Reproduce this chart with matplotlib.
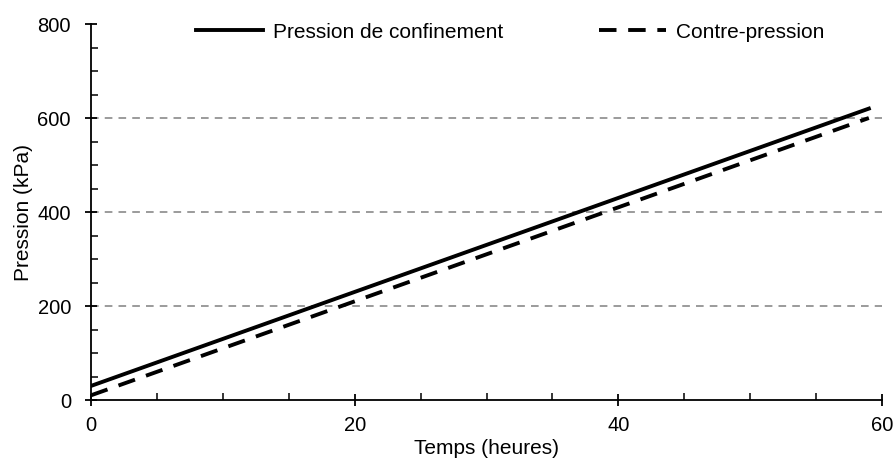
import matplotlib.pyplot as plt
from matplotlib.ticker import MultipleLocator

plt.rcParams['font.family'] = ['Liberation Sans', 'DejaVu Sans']

temps = [0, 59]
confinement = [30, 620]
contre_pression = [10, 600]

fig = plt.figure(figsize=(8.95, 4.59), dpi=100)
ax = fig.add_axes([0.1017, 0.1285, 0.8838, 0.8192])

ax.plot(temps, confinement, color="black", lw=2.8, label="Pression de confinement")
ax.plot(temps, contre_pression, color="black", lw=2.8, ls=(0, (4.5, 3)), label="Contre-pression")

for yv in [200, 400, 600]:
    ax.axhline(yv, color="#808080", lw=1.1, ls=(0, (5, 4)), zorder=0)

ax.set_xlim(0, 60)
ax.set_ylim(0, 800)
ax.xaxis.set_major_locator(MultipleLocator(20))
ax.xaxis.set_minor_locator(MultipleLocator(5))
ax.yaxis.set_major_locator(MultipleLocator(200))
ax.yaxis.set_minor_locator(MultipleLocator(50))
ax.tick_params(which="major", direction="inout", length=9, width=1.3, labelsize=14.5)
ax.tick_params(axis="x", which="major", pad=7)
ax.tick_params(axis="y", which="major", pad=10)
ax.tick_params(which="minor", direction="in", length=5, width=1.1)

for s in ["top", "right"]:
    ax.spines[s].set_visible(False)
for s in ["left", "bottom"]:
    ax.spines[s].set_linewidth(1.3)

ax.set_xlabel("Temps (heures)", fontsize=15, labelpad=3)
ax.set_ylabel("Pression (kPa)", fontsize=15, labelpad=3)

ax.legend(loc="center", bbox_to_anchor=(0.530, 0.978), ncol=2, frameon=False,
          fontsize=15, handlelength=3.2, handletextpad=0.5, columnspacing=4.6,
          borderpad=0, borderaxespad=0)

fig.savefig("out.png", dpi=100)
